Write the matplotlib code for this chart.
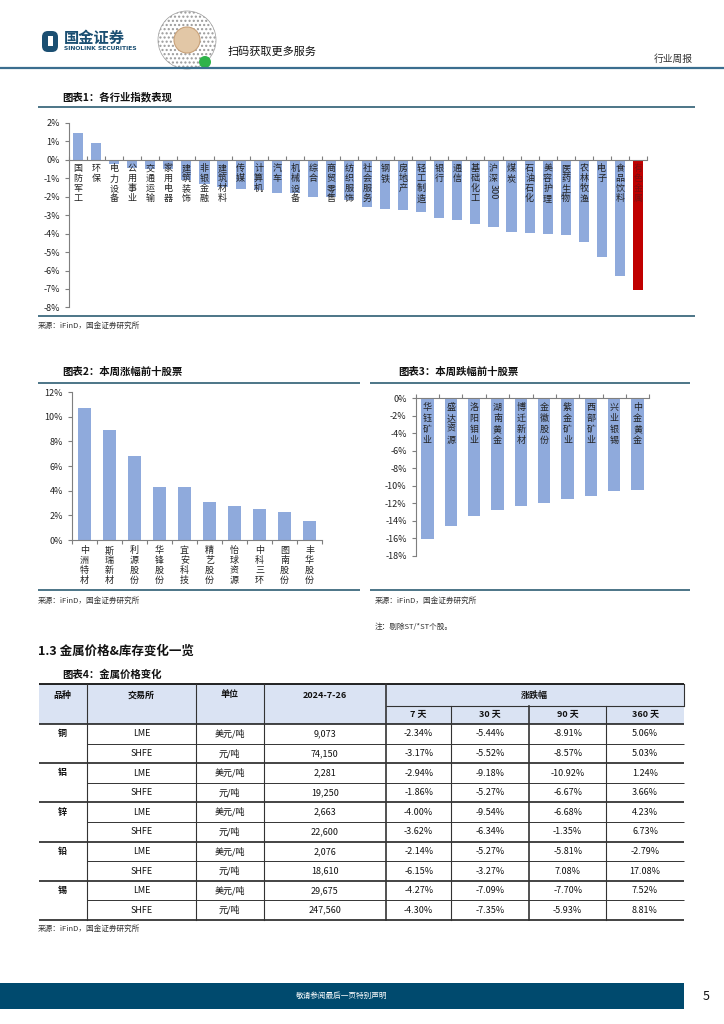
import re
import matplotlib
matplotlib.use('Agg')
import matplotlib.pyplot as plt
from matplotlib.patches import Rectangle, FancyBboxPatch, Circle

plt.rcParams['font.family'] = ['Noto Sans CJK SC', 'DejaVu Sans']
plt.rcParams['axes.unicode_minus'] = False

# 图表1: 各行业指数表现 (%)
industries = ['国防军工', '环保', '电力设备', '公用事业', '交通运输', '家用电器', '建筑装饰', '非银金融',
              '建筑材料', '传媒', '计算机', '汽车', '机械设备', '综合', '商贸零售', '纺织服饰',
              '社会服务', '钢铁', '房地产', '轻工制造', '银行', '通信', '基础化工', '沪深300',
              '煤炭', '石油石化', '美容护理', '医药生物', '农林牧渔', '电子', '食品饮料', '有色金属']
industry_chg = [1.45, 0.90, -0.22, -0.43, -0.51, -0.52, -1.09, -1.32, -1.45, -1.56, -1.63, -1.77,
                -1.78, -1.99, -2.00, -2.15, -2.57, -2.66, -2.70, -2.81, -3.17, -3.24, -3.50, -3.64,
                -3.90, -3.94, -4.01, -4.05, -4.45, -5.27, -6.30, -7.05]

# 图表2: 本周涨幅前十股票 (%)
up_names = ['中洲特材', '斯瑞新材', '利源股份', '华锋股份', '宜安科技', '精艺股份', '怡球资源', '中科三环', '图南股份', '丰华股份']
up_chg = [10.7, 8.9, 6.8, 4.3, 4.3, 3.06, 2.76, 2.51, 2.24, 1.55]

# 图表3: 本周跌幅前十股票 (%)
down_names = ['华钰矿业', '盛达资源', '洛阳钼业', '湖南黄金', '博迁新材', '金徽股份', '紫金矿业', '西部矿业', '兴业银锡', '中金黄金']
down_chg = [-16.1, -14.55, -13.45, -12.8, -12.27, -12.0, -11.54, -11.17, -10.63, -10.45]

# 图表4: 金属价格变化
metals = ['铜', '铝', '锌', '铅', '锡']
exchanges = ['LME', 'SHFE'] * 5
units = ['美元/吨', '元/吨'] * 5
prices = ['9,073', '74,150', '2,281', '19,250', '2,663', '22,600', '2,076', '18,610', '29,675', '247,560']
chg_7d = ['-2.34%', '-3.17%', '-2.94%', '-1.86%', '-4.00%', '-3.62%', '-2.14%', '-6.15%', '-4.27%', '-4.30%']
chg_30d = ['-5.44%', '-5.52%', '-9.18%', '-5.27%', '-9.54%', '-6.34%', '-5.27%', '-3.27%', '-7.09%', '-7.35%']
chg_90d = ['-8.91%', '-8.57%', '-10.92%', '-6.67%', '-6.68%', '-1.35%', '-5.81%', '7.08%', '-7.70%', '-5.93%']
chg_360d = ['5.06%', '5.03%', '1.24%', '3.66%', '4.23%', '6.73%', '-2.79%', '17.08%', '7.52%', '8.81%']

BAR = '#8faadc'
RED = '#c00000'
TEAL = '#2e5d73'
TXT = '#222222'

W, H = 724, 1024
fig = plt.figure(figsize=(W / 100, H / 100), dpi=100)

# 整页画布, 像素坐标
page = fig.add_axes([0, 0, 1, 1])
page.set_xlim(0, W)
page.set_ylim(H, 0)
page.axis('off')


def ax_rect(x0, y0, x1, y1):
    # 像素 -> figure 坐标
    return [x0 / W, 1 - y1 / H, (x1 - x0) / W, (y1 - y0) / H]


def hline(y, x0, x1, color=TEAL, lw=1.2):
    page.plot([x0, x1], [y, y], color=color, lw=lw, solid_capstyle='butt')


def vlabel(ax, x, name, dy0, step, fs=6.5, color=TXT):
    parts = re.findall(r'\d+|.', name)
    for j, p in enumerate(parts):
        rot = 270 if p.isdigit() else 0
        ax.annotate(p, (x, 0), xytext=(0, -dy0 - step * j), textcoords='offset points',
                    ha='center', va='top', rotation=rot, fontsize=fs, color=color)


def style_axis(ax):
    for s in ax.spines.values():
        s.set_color('#7f7f7f')
        s.set_linewidth(0.8)
    ax.tick_params(axis='y', labelsize=6.5, colors='#7f7f7f', labelcolor=TXT, length=3, width=0.8)
    ax.tick_params(axis='x', colors='#7f7f7f', length=3, width=0.8, labelbottom=False, labeltop=False)


# ---- 页眉 ----
page.add_patch(FancyBboxPatch((42, 31), 16, 21, boxstyle='round,pad=0,rounding_size=6',
                              fc='#1b4f72', ec='none'))
page.add_patch(Rectangle((48, 36), 5, 10, fc='white', ec='none'))
page.text(64, 38, '国金证券', fontsize=11, fontweight='bold', color='#1b4f72', va='center')
page.text(64, 49, 'SINOLINK SECURITIES', fontsize=4.3, fontweight='bold', color='#1b4f72',
          va='center', family='DejaVu Sans')
page.add_patch(Circle((187, 40), 29, fc='white', ec='#9a9a9a', hatch='....', lw=0.5))
page.add_patch(Circle((187, 40), 13, fc='#e2c7a6', ec='#c9a27a', lw=0.8))
page.add_patch(Circle((205, 62), 6, fc='#2fb34a', ec='none'))
page.text(228, 52, '扫码获取更多服务', fontsize=8, color='#111111', va='center')
page.text(693, 59, '行业周报', fontsize=7, color='#333333', va='center', ha='right')
hline(68, 0, W, color='#3b6e8f', lw=1.6)

# ---- 图表1 ----
page.text(62, 97, '图表1：各行业指数表现', fontsize=7.5, fontweight='bold', color='#111111', va='center')
hline(107, 38, 695)
ax1 = fig.add_axes(ax_rect(69, 123, 647, 307.4))
x1 = list(range(len(industries)))
colors1 = [RED if n == '有色金属' else BAR for n in industries]
ax1.bar(x1, industry_chg, width=0.56, color=colors1)
ax1.set_xlim(-0.5, len(industries) - 0.5)
ax1.set_ylim(-8, 2)
ax1.set_yticks(range(-8, 3))
ax1.set_yticklabels([f'{v}%' for v in range(-8, 3)])
ax1.set_xticks([i - 0.5 for i in range(len(industries) + 1)])
ax1.spines['bottom'].set_position(('data', 0))
for s in ['top', 'right']:
    ax1.spines[s].set_visible(False)
style_axis(ax1)
ax1.tick_params(axis='x', direction='in')
for i, n in enumerate(industries):
    vlabel(ax1, i, n, 3.2, 7.2, color='#7a1010' if n == '有色金属' else TXT)
hline(316, 38, 695)
page.text(38, 326, '来源：iFinD，国金证券研究所', fontsize=5.5, color='#333333', va='center')

# ---- 图表2 ----
page.text(62, 372, '图表2：本周涨幅前十股票', fontsize=7.5, fontweight='bold', color='#111111', va='center')
hline(382.7, 38, 360)
ax2 = fig.add_axes(ax_rect(72, 392, 322, 540))
x2 = list(range(len(up_names)))
ax2.bar(x2, up_chg, width=0.5, color=BAR)
ax2.set_xlim(-0.5, len(up_names) - 0.5)
ax2.set_ylim(0, 12)
ax2.set_yticks(range(0, 13, 2))
ax2.set_yticklabels([f'{v}%' for v in range(0, 13, 2)])
ax2.set_xticks([i - 0.5 for i in range(len(up_names) + 1)])
for s in ['top', 'right']:
    ax2.spines[s].set_visible(False)
style_axis(ax2)
for i, n in enumerate(up_names):
    vlabel(ax2, i, n, 4.5, 7.2)
hline(590, 38, 360)
page.text(38, 601, '来源：iFinD，国金证券研究所', fontsize=5.5, color='#333333', va='center')

# ---- 图表3 ----
page.text(398, 372, '图表3：本周跌幅前十股票', fontsize=7.5, fontweight='bold', color='#111111', va='center')
hline(382.7, 370, 690)
ax3 = fig.add_axes(ax_rect(415.7, 398.3, 649.3, 555.7))
x3 = list(range(len(down_names)))
ax3.bar(x3, down_chg, width=0.53, color=BAR)
ax3.set_xlim(-0.5, len(down_names) - 0.5)
ax3.set_ylim(-18, 0)
ax3.set_yticks(range(-18, 1, 2))
ax3.set_yticklabels([f'{v}%' for v in range(-18, 1, 2)])
ax3.set_xticks([i - 0.5 for i in range(len(down_names) + 1)])
ax3.xaxis.set_ticks_position('top')
for s in ['bottom', 'right']:
    ax3.spines[s].set_visible(False)
style_axis(ax3)
for i, n in enumerate(down_names):
    vlabel(ax3, i, n, 3.6, 7.8)
hline(590, 370, 690)
page.text(375, 601, '来源：iFinD，国金证券研究所', fontsize=5.5, color='#333333', va='center')
page.text(375, 627, '注：剔除ST/*ST个股。', fontsize=5.5, color='#333333', va='center')

# ---- 1.3 金属价格 & 图表4 ----
page.text(38, 651, '1.3 金属价格&库存变化一览', fontsize=9, fontweight='bold', color='#111111', va='center')
page.text(62, 675, '图表4：金属价格变化', fontsize=7.5, fontweight='bold', color='#111111', va='center')

cols = [38.7, 86.8, 196, 263.6, 385.9, 451.4, 529, 606.4, 683.7]
top, mid, hdr = 684.3, 705.7, 724
row_h = 19.6
n_rows = len(exchanges)
bottom = hdr + row_h * n_rows

page.add_patch(Rectangle((cols[0], top), cols[-1] - cols[0], hdr - top, fc='#dae3f3', ec='none'))
hline(top, cols[0], cols[-1], color='#111111', lw=1.3)
hline(mid, cols[4], cols[-1], color='#333333', lw=0.8)
hline(hdr, cols[0], cols[-1], color='#111111', lw=1.1)
for k in range(1, n_rows + 1):
    y = hdr + row_h * k
    if k % 2 == 0:
        hline(y, cols[0], cols[-1], color='#111111', lw=1.1)
    else:
        hline(y, cols[1], cols[-1], color='#333333', lw=0.7)
for j, x in enumerate(cols[1:-1], start=1):
    y0 = mid if j in (5, 6, 7) else top
    lw = 1.2 if j in (4, 6) else 0.8
    page.plot([x, x], [y0, bottom], color='#333333', lw=lw)
page.plot([cols[-1], cols[-1]], [top, mid], color='#333333', lw=0.8)

hy = (top + mid) / 2
hfs = 6.5
centers = [(cols[j] + cols[j + 1]) / 2 for j in range(len(cols) - 1)]
for j, t in enumerate(['品种', '交易所', '单位', '2024-7-26']):
    page.text(centers[j], hy, t, fontsize=hfs, fontweight='bold', ha='center', va='center', color='#111111')
page.text((cols[4] + cols[-1]) / 2, hy, '涨跌幅', fontsize=hfs, fontweight='bold', ha='center', va='center', color='#111111')
for j, t in zip(range(4, 8), ['7 天', '30 天', '90 天', '360 天']):
    page.text(centers[j], (mid + hdr) / 2, t, fontsize=hfs, fontweight='bold', ha='center', va='center', color='#111111')

for k in range(n_rows):
    yc = hdr + row_h * (k + 0.5)
    if k % 2 == 0:
        page.text(centers[0], yc, metals[k // 2], fontsize=6.5, fontweight='bold', ha='center', va='center', color='#111111')
    vals = [exchanges[k], units[k], prices[k], chg_7d[k], chg_30d[k], chg_90d[k], chg_360d[k]]
    for j, v in enumerate(vals, start=1):
        page.text(centers[j], yc, v, fontsize=6.5, ha='center', va='center', color='#111111')

page.text(38, 929, '来源：iFinD，国金证券研究所', fontsize=5.5, color='#333333', va='center')

# ---- 页脚 ----
page.add_patch(Rectangle((0, 983), 684, 26, fc='#004a6e', ec='none'))
page.text(342, 996, '敬请参阅最后一页特别声明', fontsize=5.5, color='white', ha='center', va='center')
page.text(706, 996, '5', fontsize=9, color='#111111', ha='center', va='center')

fig.savefig('out.png', dpi=100)
